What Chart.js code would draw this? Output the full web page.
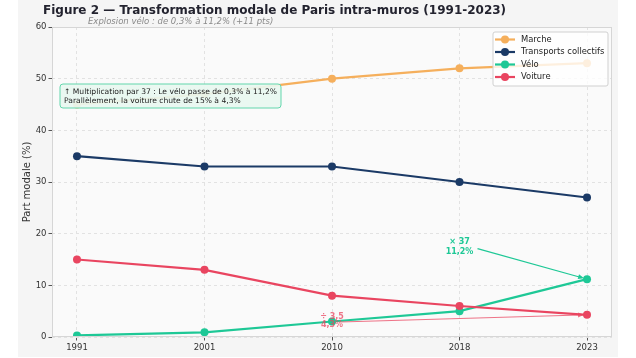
<!DOCTYPE html>
<html><head><meta charset="utf-8">
<script src="https://cdn.jsdelivr.net/npm/chart.js@4.4.1/dist/chart.umd.min.js"></script>
<style>html,body{margin:0;padding:0;background:#fff}#wrap{width:636px;height:358px}</style>
</head><body><div id="wrap"><canvas id="c" width="636" height="358"></canvas></div>
<script>
const years = ['1991', '2001', '2010', '2018', '2023'];
const marche = [45, 47, 50, 52, 53];
const transports = [35, 33, 33, 30, 27];
const velo = [0.3, 0.9, 3, 5, 11.2];
const voiture = [15, 13, 8, 6, 4.3];
const yTicks = [0, 10, 20, 30, 40, 50, 60];
const seriesNames = ['Marche', 'Transports collectifs', 'Vélo', 'Voiture'];
const seriesColors = ['#F5AF5C', '#1B3A66', '#1EC896', '#E94560'];
const titleText = 'Figure 2 — Transformation modale de Paris intra-muros (1991-2023)';
const subtitleText = 'Explosion vélo : de 0,3% à 11,2% (+11 pts)';
const yLabel = 'Part modale (%)';
const boxLines = ['↑ Multiplication par 37 : Le vélo passe de 0,3% à 11,2%', 'Parallèlement, la voiture chute de 15% à 4,3%'];
const veloNote = ['× 37', '11,2%'];
const voitureNote = ['÷ 3,5', '4,3%'];

const FONT = '"DejaVu Sans", sans-serif';
const allSeries = [marche, transports, velo, voiture];

const datasets = allSeries.map((arr, k) => ({
  label: seriesNames[k],
  data: arr.map((v, i) => ({x: i, y: v})),
  borderColor: seriesColors[k],
  backgroundColor: seriesColors[k],
  borderWidth: 2.2,
  pointRadius: 4,
  pointHoverRadius: 4,
  pointBorderWidth: 0,
  tension: 0,
  order: 4 - k
}));

function arrow(ctx, x1, y1, x2, y2, color, alpha) {
  ctx.save();
  ctx.globalAlpha = alpha;
  ctx.strokeStyle = color; ctx.fillStyle = color; ctx.lineWidth = 1.2;
  const a = Math.atan2(y2 - y1, x2 - x1);
  const hx = x2 - 3 * Math.cos(a), hy = y2 - 3 * Math.sin(a);
  ctx.beginPath(); ctx.moveTo(x1, y1); ctx.lineTo(hx - 4 * Math.cos(a), hy - 4 * Math.sin(a)); ctx.stroke();
  ctx.beginPath();
  ctx.moveTo(hx, hy);
  ctx.lineTo(hx - 6 * Math.cos(a) + 2.5 * Math.sin(a), hy - 6 * Math.sin(a) - 2.5 * Math.cos(a));
  ctx.lineTo(hx - 6 * Math.cos(a) - 2.5 * Math.sin(a), hy - 6 * Math.sin(a) + 2.5 * Math.cos(a));
  ctx.closePath(); ctx.fill();
  ctx.restore();
}

const deco = {
  id: 'deco',
  beforeDraw(chart) {
    const ctx = chart.ctx, ca = chart.chartArea;
    ctx.save();
    ctx.fillStyle = '#ffffff'; ctx.fillRect(0, 0, 636, 358);
    ctx.fillStyle = '#f5f5f5'; ctx.fillRect(18, 0, 600, 357);
    ctx.fillStyle = '#fafafa'; ctx.fillRect(ca.left, ca.top, ca.right - ca.left, ca.bottom - ca.top);
    ctx.restore();
  },
  afterDatasetsDraw(chart) {
    const ctx = chart.ctx, ca = chart.chartArea;
    const xs = chart.scales.x, ys = chart.scales.y;
    ctx.save();
    // frame
    ctx.strokeStyle = '#d6d6d6'; ctx.lineWidth = 1;
    ctx.strokeRect(ca.left + 0.5, ca.top + 0.5, ca.right - ca.left - 1, ca.bottom - ca.top - 1);
    // title
    ctx.fillStyle = '#23232f'; ctx.textBaseline = 'middle'; ctx.textAlign = 'left';
    ctx.font = 'bold 12px ' + FONT;
    ctx.fillText(titleText, 43, 11);
    ctx.fillStyle = '#8a8a8a'; ctx.font = 'italic 8.5px ' + FONT;
    ctx.fillText(subtitleText, 88, 22);
    // y label
    ctx.save();
    ctx.translate(27, (ca.top + ca.bottom) / 2); ctx.rotate(-Math.PI / 2);
    ctx.textAlign = 'center'; ctx.fillStyle = '#333'; ctx.font = '10px ' + FONT;
    ctx.fillText(yLabel, 0, 0);
    ctx.restore();
    // box annotation
    const bx = 60, by = 84, bw = 221, bh = 24;
    ctx.beginPath(); ctx.roundRect(bx, by, bw, bh, 3);
    ctx.fillStyle = 'rgba(232,248,240,0.93)'; ctx.fill();
    ctx.strokeStyle = '#63d6ac'; ctx.lineWidth = 1; ctx.stroke();
    ctx.fillStyle = '#222'; ctx.font = '7.6px ' + FONT; ctx.textAlign = 'left';
    ctx.fillText(boxLines[0], bx + 4, by + 8);
    ctx.fillText(boxLines[1], bx + 4, by + 17);
    // velo note
    const vx = xs.getPixelForValue(3), vy = ys.getPixelForValue(17.5);
    ctx.font = 'bold 8px ' + FONT; ctx.textAlign = 'center'; ctx.fillStyle = seriesColors[2];
    ctx.fillText(veloNote[0], vx, vy - 5);
    ctx.fillText(veloNote[1], vx, vy + 5);
    arrow(ctx, vx + 18, vy + 2, xs.getPixelForValue(4), ys.getPixelForValue(velo[4]), seriesColors[2], 1);
    // voiture note
    const rx = xs.getPixelForValue(2), ry = ys.getPixelForValue(3.1);
    arrow(ctx, rx + 8, ry + 1, xs.getPixelForValue(4), ys.getPixelForValue(voiture[4]), seriesColors[3], 0.75);
    ctx.globalAlpha = 0.75; ctx.fillStyle = seriesColors[3];
    ctx.fillText(voitureNote[0], rx, ry - 4);
    ctx.fillText(voitureNote[1], rx, ry + 4);
    ctx.globalAlpha = 1;
    // legend
    const lx = 493, ly = 32, lw = 115, lh = 54;
    ctx.beginPath(); ctx.roundRect(lx, ly, lw, lh, 2);
    ctx.fillStyle = 'rgba(255,255,255,0.8)'; ctx.fill();
    ctx.strokeStyle = '#d0d0d0'; ctx.stroke();
    ctx.font = '8.4px ' + FONT; ctx.textAlign = 'left'; ctx.fillStyle = '#222';
    seriesNames.forEach((n, k) => {
      const yy = 39.5 + k * 12.5;
      ctx.strokeStyle = seriesColors[k]; ctx.lineWidth = 2.2;
      ctx.beginPath(); ctx.moveTo(495, yy); ctx.lineTo(515, yy); ctx.stroke();
      ctx.fillStyle = seriesColors[k];
      ctx.beginPath(); ctx.arc(505, yy, 4, 0, Math.PI * 2); ctx.fill();
      ctx.fillStyle = '#222';
      ctx.fillText(n, 521, yy);
    });
    ctx.restore();
  }
};

new Chart(document.getElementById('c'), {
  type: 'line',
  data: {datasets},
  plugins: [deco],
  options: {
    responsive: false, animation: false, devicePixelRatio: 1,
    layout: {padding: {top: 27, right: 24, left: 0, bottom: 0}},
    plugins: {legend: {display: false}, tooltip: {enabled: false}, title: {display: false}},
    scales: {
      x: {
        type: 'linear', min: -0.196, max: 4.196,
        afterBuildTicks: s => { s.ticks = years.map((y, i) => ({value: i})); },
        afterFit: s => { s.height = 21; },
        ticks: {callback: v => years[v], color: '#333', font: {family: FONT, size: 8.5}, padding: 2, maxRotation: 0, autoSkip: false},
        grid: {color: '#e2e2e2', tickColor: '#555', tickLength: 3.5, tickBorderDash: [], drawTicks: true},
        border: {display: false, dash: [3, 3]}
      },
      y: {
        min: 0, max: 60,
        afterBuildTicks: s => { s.ticks = yTicks.map(v => ({value: v})); },
        afterFit: s => { s.width = 52; },
        ticks: {color: '#333', font: {family: FONT, size: 8.5}, padding: 2},
        grid: {color: '#e2e2e2', tickColor: '#555', tickLength: 3.5, tickBorderDash: []},
        border: {display: false, dash: [3, 3]}
      }
    }
  }
});
</script></body></html>
